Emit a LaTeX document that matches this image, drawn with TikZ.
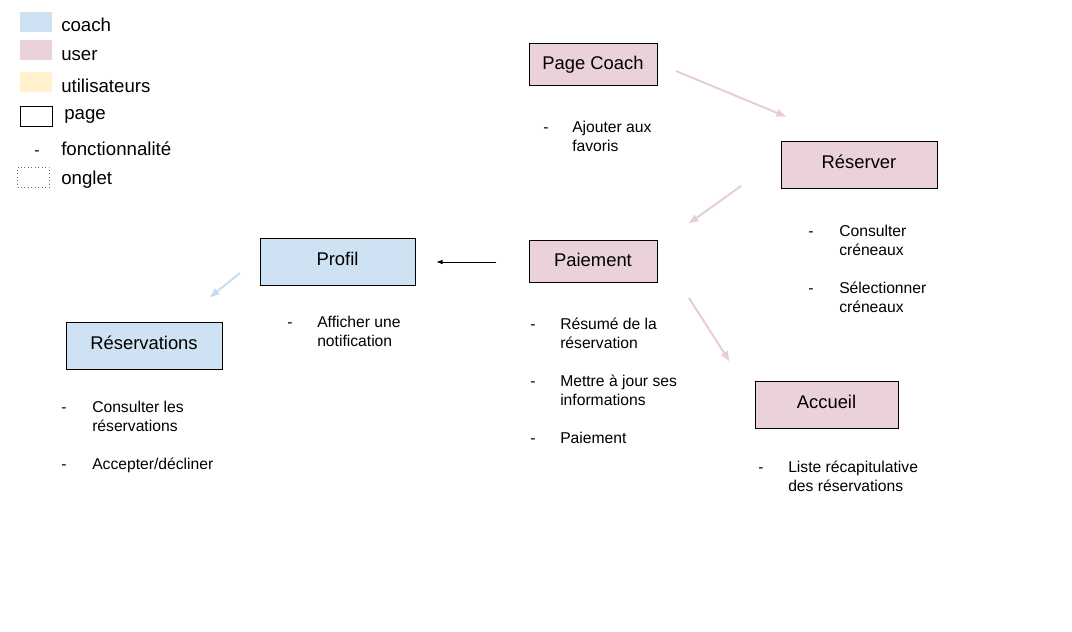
\documentclass[tikz,border=0pt]{standalone}
\usepackage{fontspec}
\setmainfont{Liberation Sans}
\usetikzlibrary{arrows.meta, positioning}
\definecolor{coachblue}{HTML}{CFE2F3}
\definecolor{userpink}{HTML}{EAD1DC}
\definecolor{utilyellow}{HTML}{FFF2CC}
\definecolor{arrowpink}{HTML}{E8CCD8}
\definecolor{arrowblue}{HTML}{C9DDF0}
\tikzstyle{pagebox}   = [draw, line width=0.75pt, inner sep=0pt, text height=9pt, text depth=3pt, font=\fontsize{13.8}{16}\selectfont]
\tikzstyle{lowtext}   = [text height=10pt, text depth=1.2pt]
\tikzstyle{coachpage} = [pagebox, fill=coachblue]
\tikzstyle{userpage}  = [pagebox, fill=userpink]
\tikzstyle{swatch}    = [inner sep=0pt, minimum width=24pt, minimum height=15pt]
\tikzstyle{legendtxt} = [anchor=base west, inner sep=0pt, font=\fontsize{14}{16}\selectfont]
\tikzstyle{dashmark}  = [anchor=base, inner sep=0pt, font=\fontsize{11.75}{14.25}\selectfont]
\tikzstyle{func}      = [anchor=base west, inner sep=0pt, font=\fontsize{11.75}{14.25}\selectfont]
\tikzstyle{userflow}  = [draw=arrowpink, line width=1.5pt, -{Latex[length=8pt, width=6.5pt]}]
\tikzstyle{coachflow} = [draw=arrowblue, line width=1.5pt, -{Latex[length=8pt, width=6.5pt]}]
\newcommand{\funclines}[1]{\begin{tabular}[t]{@{}l@{}}#1\end{tabular}}

\begin{document}
\begin{tikzpicture}[x=0.75pt, y=-0.75pt]
\useasboundingbox (0,0) rectangle (1072,632);

% legend
\node [swatch, fill=coachblue]                          at ( 36,   22) (lcoach)  {};
\node [swatch, fill=userpink]                           at ( 36,   50) (luser)   {};
\node [swatch, fill=utilyellow]                         at ( 36,   82) (lutil)   {};
\node [swatch, draw, line width=0.75pt]                 at ( 36,  116) (lpage)   {};
\node [swatch, draw=black!60, dotted, line width=0.6pt] at ( 33.5,177) (longlet) {};
\node [dashmark]                                        at ( 37,  155) (ldash)   {-};
\node [legendtxt] at (61,  31) (tcoach)  {coach};
\node [legendtxt] at (61,  60) (tuser)   {user};
\node [legendtxt] at (61,  92) (tutil)   {utilisateurs};
\node [legendtxt] at (64, 119) (tpage)   {page};
\node [legendtxt] at (61, 155) (tfonc)   {fonctionnalité};
\node [legendtxt] at (61, 184) (tonglet) {onglet};

% pages
\node [userpage, lowtext, minimum width=96pt, minimum height=31.5pt]  at (593,   64  ) (coach)    {Page Coach};
\node [userpage,  minimum width=117pt,    minimum height=35.25pt]     at (859,  164.5) (reserver) {Réserver};
\node [userpage, lowtext, minimum width=96pt, minimum height=31.5pt]  at (593,  261  ) (paiement) {Paiement};
\node [coachpage, minimum width=116.25pt, minimum height=35.25pt]     at (337.5,261.5) (profil)   {Profil};
\node [coachpage, minimum width=117pt,    minimum height=35.25pt]     at (144,  345.5) (resas)    {Réservations};
\node [userpage,  minimum width=107.25pt, minimum height=35.25pt]     at (826.5,404.5) (accueil)  {Accueil};

% fonctionnalites
\node [dashmark] at (546, 132.5) (d1) {-};
\node [func]     at (572, 132.5) (f1) {\funclines{Ajouter aux\\favoris}};

\node [dashmark] at (811, 236.5) (d2) {-};
\node [func]     at (839, 236.5) (f2) {\funclines{Consulter\\créneaux}};
\node [dashmark] at (811, 293.5) (d3) {-};
\node [func]     at (839, 293.5) (f3) {\funclines{Sélectionner\\créneaux}};

\node [dashmark] at (533, 329.5) (d4) {-};
\node [func]     at (560, 329.5) (f4) {\funclines{Résumé de la\\réservation}};
\node [dashmark] at (533, 386.5) (d5) {-};
\node [func]     at (560, 386.5) (f5) {\funclines{Mettre à jour ses\\informations}};
\node [dashmark] at (533, 443  ) (d6) {-};
\node [func]     at (560, 443  ) (f6) {Paiement};

\node [dashmark] at (290, 327.5) (d7) {-};
\node [func]     at (317, 327.5) (f7) {\funclines{Afficher une\\notification}};

\node [dashmark] at ( 64, 412) (d8) {-};
\node [func]     at ( 92, 412) (f8) {\funclines{Consulter les\\réservations}};
\node [dashmark] at ( 64, 469) (d9) {-};
\node [func]     at ( 92, 469) (f9) {Accepter/décliner};

\node [dashmark] at (761, 472) (d10) {-};
\node [func]     at (788, 472) (f10) {\funclines{Liste récapitulative\\des réservations}};

% arrow ends
\coordinate (coach-out)    at (676,  71);
\coordinate (reserver-in)  at (787, 117);
\coordinate (reserver-out) at (741, 186);
\coordinate (paiement-in)  at (688, 224);
\coordinate (paiement-l)   at (496, 262);
\coordinate (profil-in)    at (436, 262);
\coordinate (paiement-d)   at (689, 298);
\coordinate (accueil-in)   at (730, 362);
\coordinate (profil-out)   at (240, 273);
\coordinate (resas-in)     at (209, 298);

% edges
\path [userflow]  (coach-out)    -- (reserver-in);
\path [userflow]  (reserver-out) -- (paiement-in);
\path [userflow]  (paiement-d)   -- (accueil-in);
\path [coachflow] (profil-out)   -- (resas-in);
\draw [line width=0.75pt, -{Latex[length=5pt, width=3.5pt]}] (paiement-l) -- (profil-in);

\end{tikzpicture}
\end{document}
